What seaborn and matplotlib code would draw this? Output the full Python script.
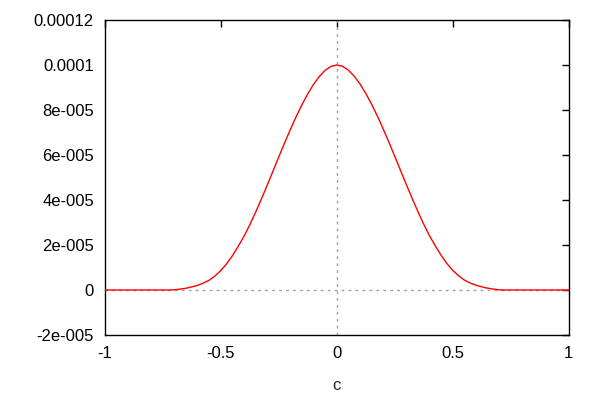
import numpy as np
import pandas as pd
import matplotlib
matplotlib.use('Agg')
import matplotlib.pyplot as plt
import seaborn as sns

# values (y in units of 1e-5)
c_vals = [-1.0, -0.9, -0.8, -0.72, -0.7, -0.675, -0.65, -0.625, -0.6, -0.575,
          -0.55, -0.525, -0.5, -0.475, -0.45, -0.425, -0.4, -0.375, -0.35, -0.325,
          -0.3, -0.275, -0.25, -0.225, -0.2, -0.175, -0.15, -0.125, -0.1, -0.075,
          -0.05, -0.025, 0.0, 0.025, 0.05, 0.075, 0.1, 0.125, 0.15, 0.175,
          0.2, 0.225, 0.25, 0.275, 0.3, 0.325, 0.35, 0.375, 0.4, 0.425,
          0.45, 0.475, 0.5, 0.525, 0.55, 0.575, 0.6, 0.625, 0.65, 0.675,
          0.7, 0.72, 0.8, 0.9, 1.0]
y_e5 = [0.0, 0.0, 0.0, 0.0, 0.01, 0.04, 0.08, 0.14, 0.21, 0.31,
        0.44, 0.63, 0.87, 1.17, 1.53, 1.95, 2.40, 2.91, 3.47, 4.06,
        4.67, 5.30, 5.93, 6.55, 7.15, 7.72, 8.25, 8.73, 9.15, 9.50,
        9.77, 9.94, 10.0, 9.94, 9.77, 9.50, 9.15, 8.73, 8.25, 7.72,
        7.15, 6.55, 5.93, 5.30, 4.67, 4.06, 3.47, 2.91, 2.40, 1.95,
        1.53, 1.17, 0.87, 0.63, 0.44, 0.31, 0.21, 0.14, 0.08, 0.04,
        0.01, 0.0, 0.0, 0.0, 0.0]

y_ticks = [-2e-5, 0, 2e-5, 4e-5, 6e-5, 8e-5, 1e-4, 1.2e-4]
y_labels = ['-2e-005', '0', '2e-005', '4e-005', '6e-005', '8e-005', '0.0001', '0.00012']
x_ticks = [-1, -0.5, 0, 0.5, 1]
x_labels = ['-1', '-0.5', '0', '0.5', '1']

df = pd.DataFrame({'c': c_vals, 'y': np.array(y_e5) * 1e-5})

sns.set_style('white')
plt.rcParams['font.family'] = ['Liberation Sans', 'DejaVu Sans']

fig = plt.figure(figsize=(6, 4), dpi=100)
ax = fig.add_axes([0.175, 0.1625, 0.773, 0.7875])

# zero axes
ax.axhline(0, color='#a0a0a0', lw=1, ls=(0, (2, 3)), zorder=1)
ax.axvline(0, color='#a0a0a0', lw=1, ls=(0, (2, 3)), zorder=1)

sns.lineplot(data=df, x='c', y='y', color='red', lw=1, ax=ax, sort=False, zorder=3)

ax.set_xlim(-1, 1)
ax.set_ylim(-2e-5, 1.2e-4)
ax.set_xticks(x_ticks)
ax.set_xticklabels(x_labels)
ax.set_yticks(y_ticks)
ax.set_yticklabels(y_labels)
ax.tick_params(direction='in', length=5, width=1, labelsize=12, colors='black',
               top=True, right=True, pad=8)
ax.set_xlabel('c', fontsize=12, labelpad=12)
ax.set_ylabel('')
for s in ax.spines.values():
    s.set_color('black')
    s.set_linewidth(1)

fig.savefig('out.png', dpi=100)
